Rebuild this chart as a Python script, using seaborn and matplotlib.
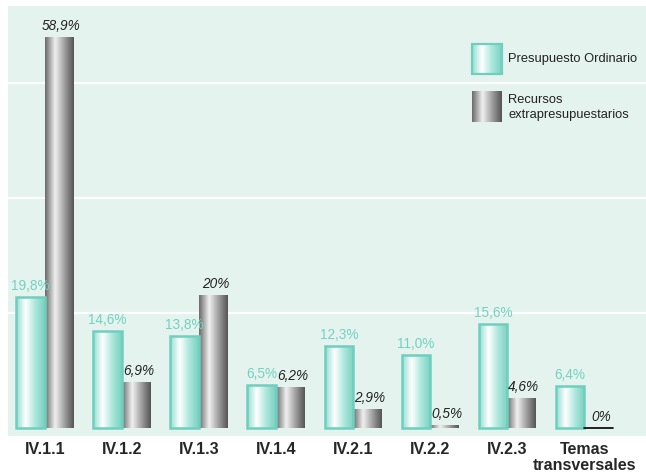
import numpy as np
import pandas as pd
import matplotlib
matplotlib.use("Agg")
import matplotlib.pyplot as plt
import seaborn as sns
from matplotlib.colors import LinearSegmentedColormap

categories = ["IV.1.1", "IV.1.2", "IV.1.3", "IV.1.4", "IV.2.1", "IV.2.2", "IV.2.3", "Temas\ntransversales"]
ordinario = [19.8, 14.6, 13.8, 6.5, 12.3, 11.0, 15.6, 6.4]
extra = [58.9, 6.9, 20, 6.2, 2.9, 0.5, 4.6, 0]
ordinario_lbl = ["19,8%", "14,6%", "13,8%", "6,5%", "12,3%", "11,0%", "15,6%", "6,4%"]
extra_lbl = ["58,9%", "6,9%", "20%", "6,2%", "2,9%", "0,5%", "4,6%", "0%"]
series = ["Presupuesto Ordinario", "Recursos\nextrapresupuestarios"]

df = pd.DataFrame({
    "cat": categories * 2,
    "serie": [series[0]] * len(categories) + [series[1]] * len(categories),
    "valor": ordinario + extra,
})

sns.set_style("white")
plt.rcParams["font.family"] = ["Liberation Sans", "DejaVu Sans"]

teal_cmap = LinearSegmentedColormap.from_list(
    "teal", [(0, "#93ddcf"), (0.33, "#ffffff"), (0.65, "#b0e8dd"), (1, "#78d1c1")])
gray_cmap = LinearSegmentedColormap.from_list(
    "gray", [(0, "#6b6b6b"), (0.35, "#f0f0f0"), (0.7, "#9a9a9a"), (1, "#555555")])
grad = np.linspace(0, 1, 64).reshape(1, -1)

fig = plt.figure(figsize=(6.46, 4.75), dpi=100)
ax = fig.add_axes([0.0124, 0.082, 0.9876, 0.905])
ax.set_facecolor("#e4f3ee")

sns.barplot(data=df, x="cat", y="valor", hue="serie", width=0.74, ax=ax,
            palette=["#ffffff", "#888888"], legend=False, saturation=1)

teal_edge = "#6fcfbf"
n = len(categories)
for i, p in enumerate(ax.patches[:2 * n]):
    x0, w, h = p.get_x(), p.get_width(), p.get_height()
    is_teal = i < n
    if h > 0:
        im = ax.imshow(grad, cmap=teal_cmap if is_teal else gray_cmap, aspect="auto",
                       extent=[x0, x0 + w, 0, h], zorder=2, interpolation="bicubic")
        im.set_clip_path(p)
        p.set_facecolor("none")
        p.set_zorder(3)
        if is_teal:
            p.set_edgecolor(teal_edge)
            p.set_linewidth(1.8)
        else:
            p.set_linewidth(0)
    else:
        p.set_linewidth(0)
        ax.plot([x0, x0 + w], [0, 0], color="black", lw=1.2, zorder=4)
    j = i % n
    if is_teal:
        ax.text(x0 + w / 2, h + 0.6, ordinario_lbl[j], ha="center", va="bottom",
                color="#72d2c2", fontsize=9.8)
    else:
        ax.text(x0 + w / 2 + 0.03, h + 0.6, extra_lbl[j], ha="center", va="bottom",
                color="#222222", fontsize=9.8, style="italic")

ax.set_yticks([17.3, 34.6, 51.9])
ax.set_yticklabels([])
ax.tick_params(axis="y", length=0)
ax.grid(axis="y", color="white", lw=1.6)
ax.set_axisbelow(True)
ax.tick_params(axis="x", length=0, pad=4)
for t in ax.get_xticklabels():
    t.set_fontweight("bold")
    t.set_fontsize(11.5)
    t.set_linespacing(1.1)
ax.set_xlabel("")
ax.set_ylabel("")
for s in ax.spines.values():
    s.set_visible(False)

# legend drawn by hand so the swatches keep the gradient
sw = [(0.727, 0.842, teal_cmap, teal_edge), (0.728, 0.730, gray_cmap, None)]
for (sx, sy, cm, ec), name in zip(sw, series):
    ax.imshow(grad, cmap=cm, aspect="auto", transform=ax.transAxes,
              extent=[sx, sx + 0.047, sy, sy + 0.07], zorder=5, interpolation="bicubic")
    if ec:
        ax.add_patch(plt.Rectangle((sx, sy), 0.047, 0.07, transform=ax.transAxes,
                                   fill=False, ec=ec, lw=1.6, zorder=6))
    ax.text(0.784, sy + 0.035, name, transform=ax.transAxes, ha="left",
            va="center", fontsize=9.3, color="#222222", linespacing=1.3)

ax.set_xlim(-0.477, 7.8)
ax.set_ylim(-1.2, 63.5)
fig.savefig("out.png", dpi=100)
